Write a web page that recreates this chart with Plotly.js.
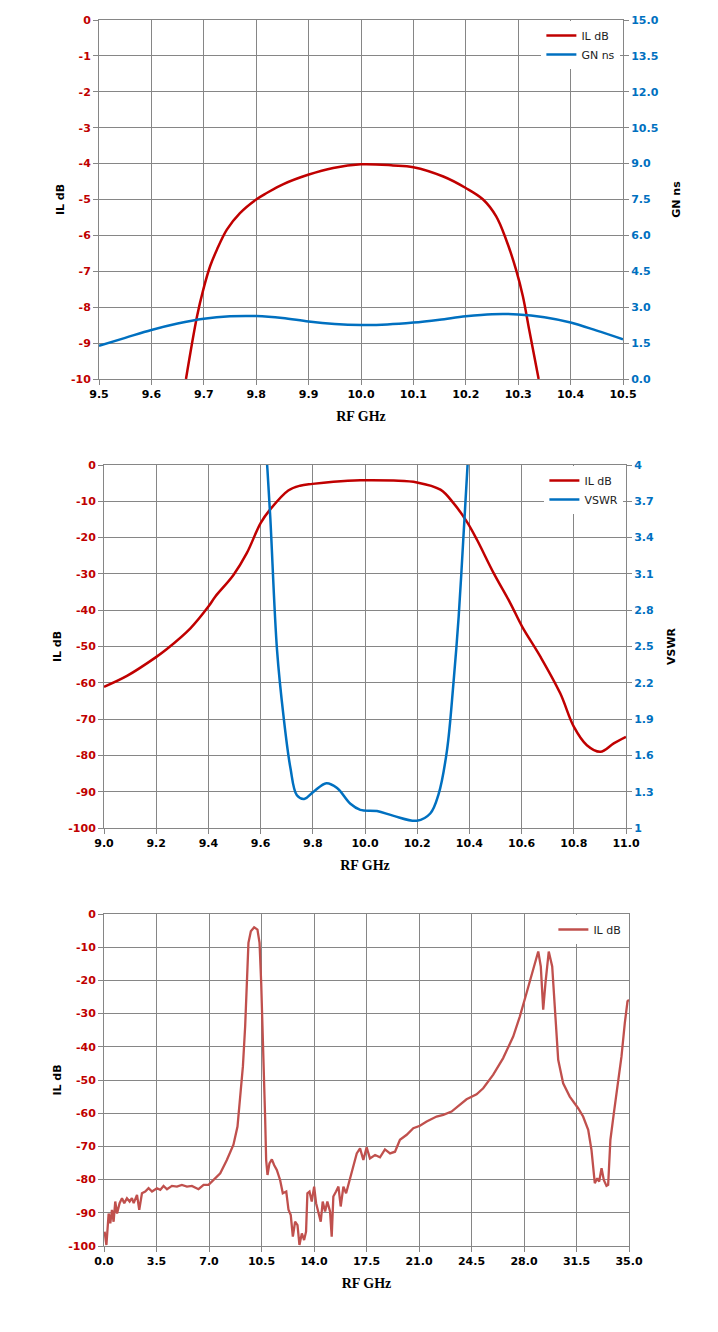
<!DOCTYPE html>
<html>
<head>
<meta charset="utf-8">
<script src="https://cdn.plot.ly/plotly-3.0.1.min.js"></script>
<style>
body{ margin:0; background:#fff; }
.chart{ position:absolute; left:0; width:718px; }
</style>
</head>
<body>
<div id="graph1" class="chart" style="top:0px;height:440px;"></div>
<div id="graph2" class="chart" style="top:445px;height:440px;"></div>
<div id="graph3" class="chart" style="top:894px;height:438px;"></div>
<script>
// chart 1: passband, IL dB + group delay ns
var ilFreq1 = [9.666, 9.687, 9.699, 9.712, 9.725, 9.744, 9.769, 9.80, 9.82, 9.852, 9.899, 9.947, 10.0,
    10.061, 10.10, 10.157, 10.20, 10.233, 10.258, 10.277, 10.296, 10.309, 10.321, 10.339];
var ilVal1 = [-10.0, -8.26, -7.51, -6.86, -6.40, -5.84, -5.38, -5.0, -4.82, -4.57, -4.31, -4.12, -4.02,
    -4.05, -4.10, -4.36, -4.68, -5.0, -5.47, -6.12, -6.96, -7.70, -8.63, -10.0];
var gnFreq = [9.5, 9.55, 9.6, 9.65, 9.7, 9.75, 9.8, 9.85, 9.9, 9.95, 10.0, 10.05, 10.1, 10.15, 10.2,
    10.25, 10.3, 10.35, 10.4, 10.45, 10.5];
var gnVal = [1.39, 1.72, 2.05, 2.32, 2.52, 2.62, 2.63, 2.55, 2.40, 2.30, 2.26, 2.28, 2.36, 2.48, 2.62,
    2.71, 2.70, 2.58, 2.36, 2.02, 1.66];

// chart 2: wide band, IL dB + VSWR
var ilFreq2 = [9.0, 9.088, 9.198, 9.241, 9.331, 9.40, 9.426, 9.496, 9.547, 9.60, 9.636, 9.706, 9.751,
    9.799, 9.879, 9.982, 10.11, 10.199, 10.289, 10.339, 10.39, 10.429, 10.493, 10.557, 10.602, 10.672,
    10.748, 10.80, 10.85, 10.902, 10.953, 11.0];
var ilVal2 = [-61.1, -58.1, -53.0, -50.7, -45.0, -39.0, -36.3, -30.3, -24.3, -16.0, -12.3, -7.0, -5.7,
    -5.2, -4.6, -4.2, -4.3, -4.8, -6.8, -10.5, -15.6, -20.6, -29.8, -38.1, -44.5, -52.8,
    -62.9, -72.1, -77.2, -79.0, -76.7, -74.9];
var vswrFreq = [9.615, 9.625, 9.637, 9.663, 9.688, 9.714, 9.739, 9.767, 9.803, 9.852, 9.893, 9.944,
    9.982, 10.046, 10.11, 10.199, 10.25, 10.282, 10.314, 10.339, 10.359, 10.378, 10.393, 10.398];
var vswrVal = [4.3, 4.0, 3.57, 2.47, 1.92, 1.50, 1.27, 1.24, 1.30, 1.37, 1.33, 1.20,
    1.15, 1.14, 1.10, 1.06, 1.12, 1.28, 1.64, 2.20, 2.75, 3.44, 4.0, 4.3];

// chart 3: 0 - 35 GHz sweep
var ilFreq3 = [0.04, 0.16, 0.31, 0.42, 0.53, 0.64, 0.75, 0.87, 1.04, 1.20, 1.35, 1.53, 1.71, 1.86, 1.98,
    2.20, 2.35, 2.53, 2.75, 2.97, 3.20, 3.53, 3.75, 3.97, 4.20, 4.53, 4.86, 5.19, 5.53, 5.86, 6.30,
    6.64, 6.97, 7.30, 7.75, 8.19, 8.63, 8.90, 9.08, 9.26, 9.41, 9.52, 9.63, 9.79, 10.01, 10.23, 10.37,
    10.48, 10.63, 10.74, 10.81, 10.90, 11.03, 11.19, 11.34, 11.52, 11.74, 11.92, 12.15, 12.30, 12.45,
    12.59, 12.74, 12.90, 13.03, 13.19, 13.34, 13.47, 13.56, 13.70, 13.85, 14.01, 14.14, 14.30, 14.45,
    14.58, 14.74, 14.89, 15.07, 15.18, 15.29, 15.47, 15.63, 15.78, 15.96, 16.14, 16.29, 16.45, 16.63,
    16.85, 17.07, 17.29, 17.51, 17.73, 18.07, 18.40, 18.73, 19.07, 19.40, 19.73, 20.18, 20.62, 21.06,
    21.51, 22.17, 22.62, 23.17, 23.73, 24.17, 24.84, 25.28, 25.95, 26.61, 27.28, 27.72, 28.17, 28.61,
    28.95, 29.12, 29.28, 29.43, 29.65, 29.88, 30.05, 30.28, 30.61, 31.05, 31.61, 31.94, 32.28, 32.50,
    32.72, 32.88, 33.01, 33.17, 33.32, 33.50, 33.61, 33.76, 33.99, 34.21, 34.50, 34.72, 34.90, 35.0];
var ilVal3 = [-95.7, -99.7, -90.2, -93.2, -89.1, -92.7, -86.6, -90.2, -87.1, -85.6, -87.1, -85.6, -86.6,
    -85.6, -87.1, -84.6, -89.1, -84.1, -83.6, -82.6, -83.6, -82.6, -83.1, -81.9, -82.9, -81.9, -82.1,
    -81.6, -82.1, -81.9, -82.9, -81.6, -81.6, -80.1, -78.1, -74.1, -69.5, -64.0, -56.0, -45.9, -33.9,
    -20.8, -8.7, -5.2, -4.0, -4.7, -8.7, -20.8, -40.9, -61.0, -74.1, -78.6, -75.1, -73.9, -75.6, -77.1,
    -80.1, -84.1, -83.6, -89.1, -90.7, -97.2, -92.7, -93.7, -99.7, -96.2, -98.2, -95.7, -84.1, -83.6,
    -86.6, -82.1, -87.1, -89.6, -92.7, -86.6, -89.6, -86.6, -89.6, -97.2, -85.1, -83.6, -82.1, -88.1,
    -82.1, -84.1, -81.6, -78.6, -75.1, -72.1, -70.6, -74.1, -70.3, -73.6, -72.6, -73.3, -70.9, -72.1,
    -71.6, -68.0, -66.5, -64.5, -63.8, -62.5, -61.0, -60.5, -59.5, -57.5, -55.8, -54.3, -52.5, -48.4,
    -43.4, -36.9, -30.9, -23.8, -16.8, -11.3, -15.8, -28.8, -20.8, -11.3, -15.8, -27.8, -43.9, -51.0,
    -55.0, -58.5, -61.0, -65.0, -71.1, -81.1, -79.6, -80.6, -76.6, -80.1, -81.9, -81.6, -68.0, -60.0,
    -52.0, -42.9, -32.9, -26.3, -25.8];

// left axis tick values (labels use a plain hyphen like the original)
var ilTicksTop = [0, -1, -2, -3, -4, -5, -6, -7, -8, -9, -10];
var ilTicksWide = [0, -10, -20, -30, -40, -50, -60, -70, -80, -90, -100];

var red = '#C00000';
var blue = '#0070C0';
var gridCol = '#868686';
var titleFont = {family: 'DejaVu Sans', size: 11, weight: 'bold', color: '#000'};
var xTitleFont = {family: 'Liberation Serif', size: 14, weight: 'bold', color: '#000'};

function xAxis(lo, hi, step) {
    return {
        range: [lo, hi], dtick: step, tick0: lo, tickformat: '.1f',
        title: {text: 'RF GHz', font: xTitleFont, standoff: 10},
        tickfont: {family: 'DejaVu Sans', size: 11, weight: 'bold', color: '#000'},
        showgrid: true, gridcolor: gridCol, gridwidth: 1,
        showline: true, linecolor: gridCol, linewidth: 1, mirror: true,
        ticks: 'outside', ticklen: 5, tickcolor: gridCol, tickwidth: 1,
        zeroline: false, fixedrange: true
    };
}

function yLeft(lo, hi, vals) {
    return {
        range: [lo, hi], tickmode: 'array', tickvals: vals,
        ticktext: vals.map(function (v) { return String(v); }),
        title: {text: 'IL dB', font: titleFont, standoff: 4},
        tickfont: {family: 'DejaVu Sans', size: 11, weight: 'bold', color: red},
        showgrid: true, gridcolor: gridCol, gridwidth: 1,
        showline: true, linecolor: gridCol, linewidth: 1, mirror: true,
        ticks: 'outside', ticklen: 5, tickcolor: gridCol, tickwidth: 1,
        zeroline: false, fixedrange: true
    };
}

function yRight(lo, hi, step, name, fmt) {
    return {
        range: [lo, hi], dtick: step, tick0: lo, tickformat: fmt,
        overlaying: 'y', side: 'right',
        title: {text: name, font: titleFont, standoff: 14},
        tickfont: {family: 'DejaVu Sans', size: 11, weight: 'bold', color: blue},
        showgrid: false,
        showline: true, linecolor: gridCol, linewidth: 1,
        ticks: 'outside', ticklen: 5, tickcolor: gridCol, tickwidth: 1,
        zeroline: false, fixedrange: true
    };
}

function legendBox() {
    return {
        x: 0.995, y: 0.997, xanchor: 'right', yanchor: 'top',
        bgcolor: '#fff', borderwidth: 0,
        font: {family: 'DejaVu Sans', size: 11, color: '#222'},
        itemwidth: 30, tracegroupgap: 0
    };
}

var config = {staticPlot: true, displayModeBar: false};

// top
var traceIl1 = {
    x: ilFreq1, y: ilVal1, type: 'scatter', mode: 'lines', name: 'IL dB',
    line: {color: red, width: 2.5, shape: 'spline'}
};
var traceGn = {
    x: gnFreq, y: gnVal, type: 'scatter', mode: 'lines', name: 'GN ns', yaxis: 'y2',
    line: {color: blue, width: 2.5, shape: 'spline'}
};
Plotly.newPlot('graph1', [traceIl1, traceGn], {
    width: 718, height: 440,
    margin: {l: 99, r: 95, t: 20, b: 61},
    paper_bgcolor: '#fff', plot_bgcolor: '#fff',
    xaxis: xAxis(9.5, 10.5, 0.1),
    yaxis: yLeft(-10, 0, ilTicksTop),
    yaxis2: yRight(0, 15, 1.5, 'GN ns', '.1f'),
    legend: legendBox()
}, config);

// middle
var traceIl2 = {
    x: ilFreq2, y: ilVal2, type: 'scatter', mode: 'lines', name: 'IL dB',
    line: {color: red, width: 2.5, shape: 'spline'}
};
var traceVswr = {
    x: vswrFreq, y: vswrVal, type: 'scatter', mode: 'lines', name: 'VSWR', yaxis: 'y2',
    line: {color: blue, width: 2.5, shape: 'spline'}
};
Plotly.newPlot('graph2', [traceIl2, traceVswr], {
    width: 718, height: 440,
    margin: {l: 104, r: 92, t: 20, b: 57},
    paper_bgcolor: '#fff', plot_bgcolor: '#fff',
    xaxis: xAxis(9.0, 11.0, 0.2),
    yaxis: yLeft(-100, 0, ilTicksWide),
    yaxis2: yRight(1, 4, 0.3, 'VSWR', ''),
    legend: legendBox()
}, config);

// bottom
var traceIl3 = {
    x: ilFreq3, y: ilVal3, type: 'scatter', mode: 'lines', name: 'IL dB',
    line: {color: '#C0504D', width: 2.3}
};
Plotly.newPlot('graph3', [traceIl3], {
    width: 718, height: 438,
    margin: {l: 104, r: 89, t: 20, b: 86},
    paper_bgcolor: '#fff', plot_bgcolor: '#fff',
    xaxis: xAxis(0, 35, 3.5),
    yaxis: yLeft(-100, 0, ilTicksWide),
    showlegend: true,
    legend: legendBox()
}, config);
</script>
</body>
</html>
